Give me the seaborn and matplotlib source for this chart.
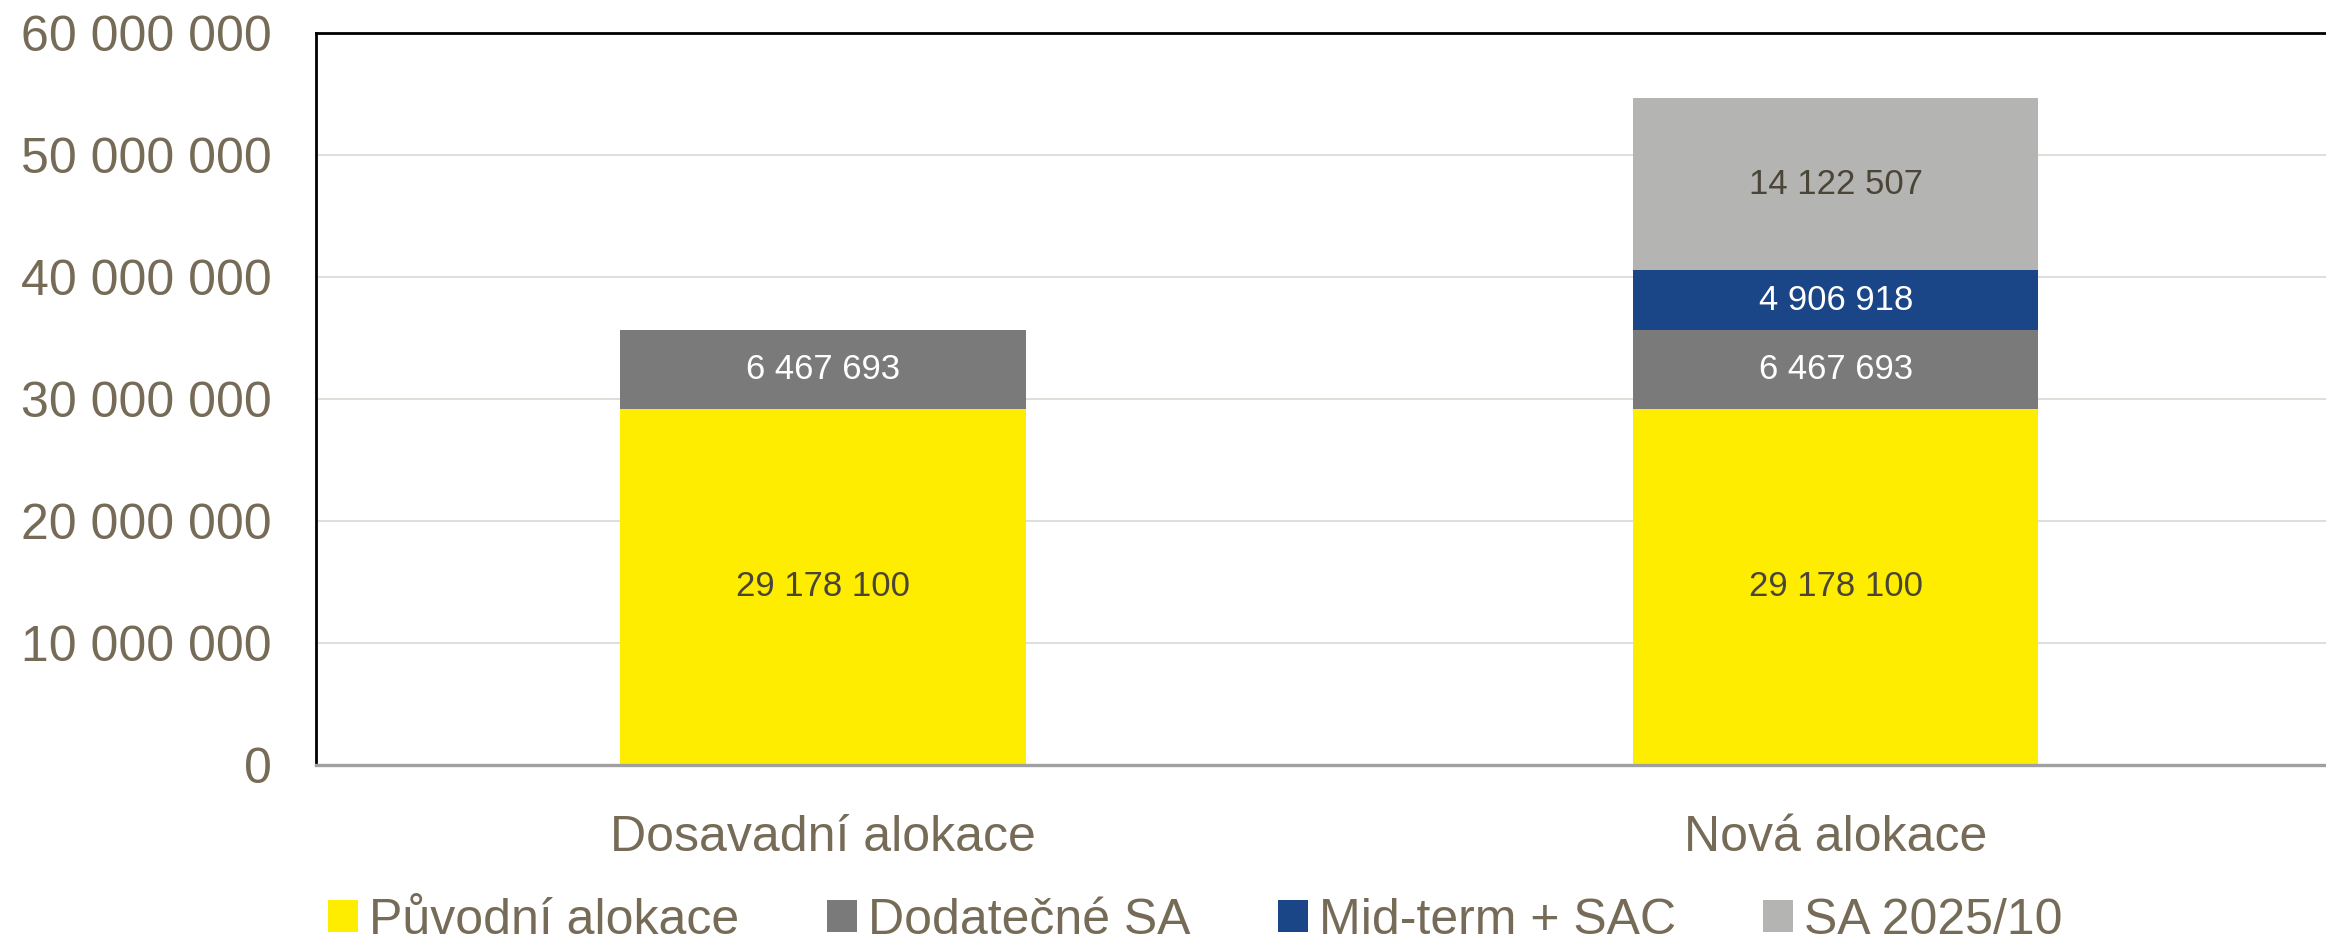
import matplotlib
matplotlib.use("Agg")
import matplotlib.pyplot as plt
from matplotlib.patches import Patch
import seaborn as sns
import pandas as pd

categories = ["Dosavadní alokace", "Nová alokace"]
series_names = ["Původní alokace", "Dodatečné SA", "Mid-term + SAC", "SA 2025/10"]
puvodni = [29178100, 29178100]
dodatecne = [6467693, 6467693]
midterm = [0, 4906918]
sa_2025 = [0, 14122507]
yticks = [0, 10000000, 20000000, 30000000, 40000000, 50000000, 60000000]

colors = ["#FFED00", "#7A7A7A", "#1A4587", "#B4B4B2"]
label_colors = ["#4B4538", "white", "white", "#4B4538"]
text_color = "#766B57"

sns.set_theme(style="white")
plt.rcParams["font.family"] = ["Liberation Sans", "DejaVu Sans"]

fig = plt.figure(figsize=(23.26, 9.4), dpi=100)
ax = fig.add_axes([0.1359, 0.1862, 0.8641, 0.7787])

layers = [puvodni, dodatecne, midterm, sa_2025]
# cumulative tops, drawn from the highest layer down so lower ones sit in front
cum = []
run = [0, 0]
for layer in layers:
  run = [a + b for a, b in zip(run, layer)]
  cum.append(run)

for i in reversed(range(len(layers))):
  df = pd.DataFrame({"cat": categories, "val": cum[i]})
  sns.barplot(data=df, x="cat", y="val", order=categories, color=colors[i],
              width=0.4, linewidth=0, saturation=1, ax=ax)

# segment labels
for i, layer in enumerate(layers):
  for j, v in enumerate(layer):
    if v <= 0:
      continue
    bottom = cum[i][j] - v
    ax.text(j, bottom + v / 2, f"{v:,}".replace(",", " "), ha="center", va="center",
            fontsize=25, color=label_colors[i])

ax.set_xlim(-0.5005, 1.484)
ax.set_ylim(0, 60000000)
ax.set_yticks(yticks)
ax.set_yticklabels([f"{t:,}".replace(",", " ") for t in yticks])
ax.set_xlabel("")
ax.set_ylabel("")
ax.yaxis.grid(True, color="#DEDAD5", linewidth=1.3)
ax.set_axisbelow(True)
ax.tick_params(axis="y", length=0, pad=32, labelsize=36, labelcolor=text_color)
ax.tick_params(axis="x", length=0, pad=36, labelsize=36, labelcolor=text_color)

for side in ["top", "left"]:
  ax.spines[side].set_color("black")
  ax.spines[side].set_linewidth(2)
ax.spines["right"].set_visible(False)
ax.spines["bottom"].set_color("#A0A0A0")
ax.spines["bottom"].set_linewidth(2.4)

handles = [Patch(facecolor=c, edgecolor="none", label=n) for c, n in zip(colors, series_names)]
leg = fig.legend(handles=handles, loc="center", bbox_to_anchor=(0.514, 0.0205), ncol=4,
                 frameon=False, fontsize=36, handlelength=0.6, handleheight=0.6,
                 handletextpad=0.22, columnspacing=1.75, labelcolor=text_color)

fig.savefig("out.png", dpi=100)
